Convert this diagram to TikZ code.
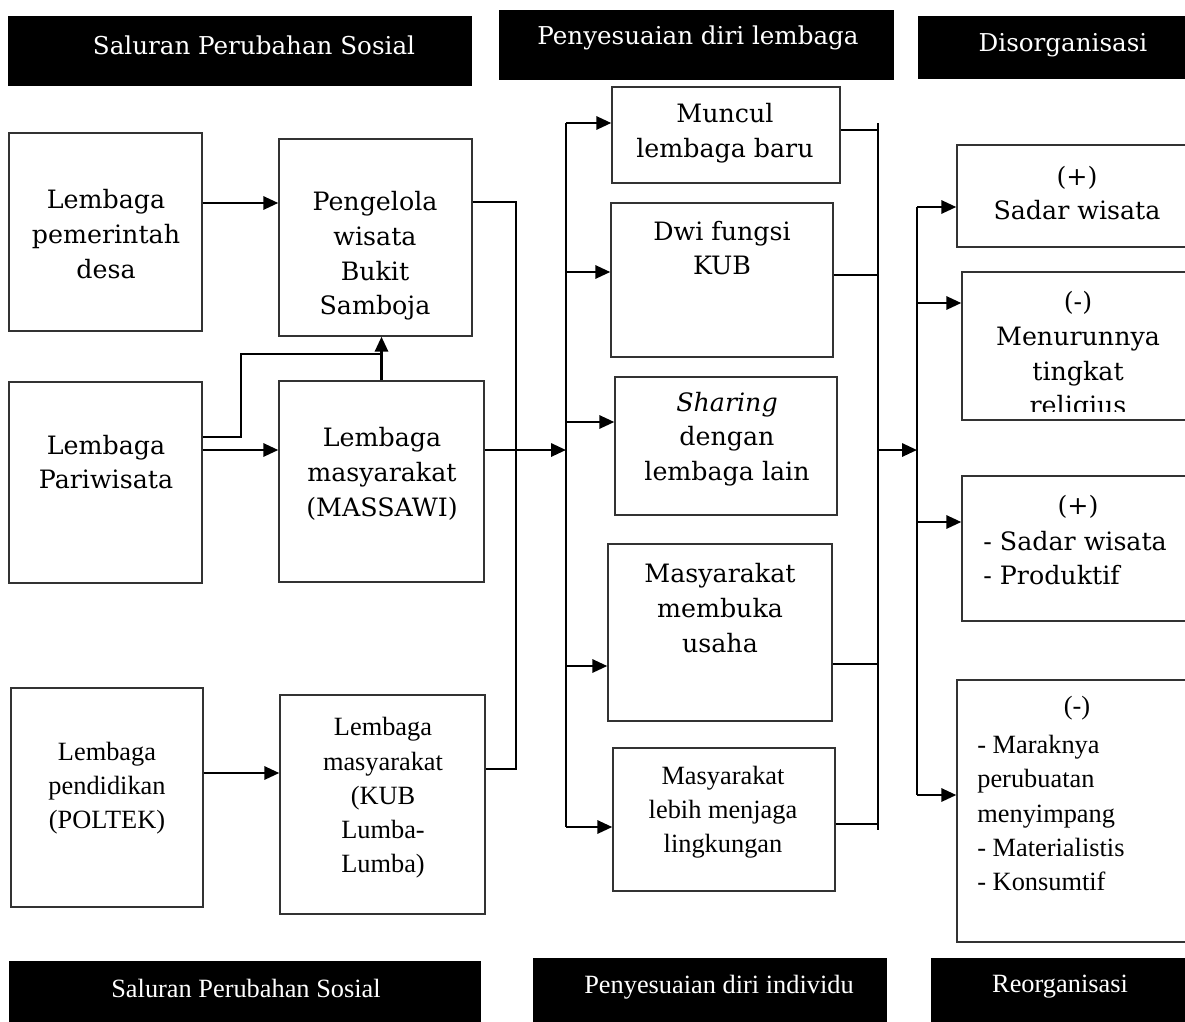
\documentclass[tikz,border=0pt]{standalone}
\usepackage{fontspec}
\setmainfont{DejaVu Serif}
\newfontfamily\tnr{Liberation Serif}
\usepackage{tikz}
\usetikzlibrary{arrows.meta,fit}

\begin{document}
\begin{tikzpicture}[x=0.02cm,y=-0.02cm,
  >={Triangle[length=8.5pt,width=7.5pt]},
  box/.style={draw=black!80,line width=0.8pt,inner sep=0pt},
  hbox/.style={fill=black,inner sep=0pt},
  txt/.style={align=center,inner sep=0pt,font=\fontsize{14.4}{19.8}\selectfont},
  ttxt/.style={align=center,inner sep=0pt,font=\tnr\fontsize{15}{19.5}\selectfont},
  htxt/.style={text=white,inner sep=0pt,font=\fontsize{14}{17}\selectfont},
  hqtxt/.style={text=white,inner sep=0pt,font=\tnr\fontsize{15}{17}\selectfont},
  link/.style={line width=1.1pt},
  arr/.style={->,line width=1.4pt}]
\clip (0,0) rectangle (1185,1021);

% black title bars
\node[hbox,fit={(8,16) (472,86)}] (h1) {};
\node[hbox,fit={(499,10) (894,80)}] (h2) {};
\node[hbox,fit={(918,16) (1195,79)}] (h3) {};
\node[hbox,fit={(9,961) (481,1030)}] (b1) {};
\node[hbox,fit={(533,958) (887,1030)}] (b2) {};
\node[hbox,fit={(931,958) (1195,1030)}] (b3) {};
\node[htxt] (h1t) at (254,45) {Saluran Perubahan Sosial};
\node[htxt] (h2t) at (698,38) {Penyesuaian diri lembaga};
\node[htxt] (h3t) at (1063,45) {Disorganisasi};
\node[hqtxt] (b1t) at (246,988) {Saluran Perubahan Sosial};
\node[hqtxt] (b2t) at (719,987) {Penyesuaian diri individu};
\node[hqtxt] (b3t) at (1060,987) {Reorganisasi};

% saluran
\node[box,fit={(9,133) (202,331)}] (l1) {};
\node[box,fit={(9,382) (202,583)}] (l2) {};
\node[box,fit={(11,688) (203,907)}] (l3) {};
\node[box,fit={(279,139) (472,336)}] (m1) {};
\node[box,fit={(279,381) (484,582)}] (m2) {};
\node[box,fit={(280,695) (485,914)}] (m3) {};
\node[txt] (l1t) at (106,234) {Lembaga\\pemerintah\\desa};
\node[txt] (l2t) at (106,462) {Lembaga\\Pariwisata};
\node[ttxt] (l3t) at (107,788) {Lembaga\\pendidikan\\(POLTEK)};
\node[txt] (m1t) at (375,256) {Pengelola\\wisata\\Bukit\\Samboja};
\node[txt] (m2t) at (382,474) {Lembaga\\masyarakat\\(MASSAWI)};
\node[ttxt] (m3t) at (383,798) {Lembaga\\masyarakat\\(KUB\\Lumba-\\Lumba)};

% penyesuaian
\node[box,fit={(612,87) (840,183)}] (r1) {};
\node[box,fit={(611,203) (833,357)}] (r2) {};
\node[box,fit={(615,377) (837,515)}] (r3) {};
\node[box,fit={(608,544) (832,721)}] (r4) {};
\node[box,fit={(613,748) (835,891)}] (r5) {};
\node[txt] (r1t) at (725,133) {Muncul\\lembaga baru};
\node[txt] (r2t) at (722,248) {Dwi fungsi\\KUB};
\node[txt] (r3t) at (727,439) {\textit{Sharing}\\dengan\\lembaga lain};
\node[txt] (r4t) at (720,608) {Masyarakat\\membuka\\usaha};
\node[ttxt] (r5t) at (723,812) {Masyarakat\\lebih menjaga\\lingkungan};

% dampak
\node[box,fit={(957,145) (1195,247)}] (d1) {};
\node[box,fit={(962,272) (1195,420)}] (d2) {};
\node[box,fit={(962,476) (1195,621)}] (d3) {};
\node[box,fit={(957,680) (1195,942)}] (d4) {};
\node[txt] (d1t) at (1077,193) {(+)\\Sadar wisata};
\begin{scope}
\clip (962,272) rectangle (1185,411);
\node[txt] (d2t) at (1078,356) {(-)\\Menurunnya\\tingkat\\religius};
\end{scope}
\node[txt] (d3t) at (1078,507) {(+)};
\node[txt,align=left,anchor=west] (d3l) at (983,558) {- Sadar wisata\\- Produktif};
\node[ttxt] (d4t) at (1077,708) {(-)};
\node[ttxt,align=left,anchor=west] (d4l) at (977,813) {- Maraknya\\perubuatan\\menyimpang\\- Materialistis\\- Konsumtif};

% left side
\draw[arr] (l1.east |- 0,203) -- (m1.west |- 0,203);
\draw[arr] (l2.east |- 0,450) -- (m2.west |- 0,450);
\draw[arr] (l3.east |- 0,773) -- (m3.west |- 0,773);
\coordinate (kink) at (241,354);
\draw[link] (l2.east |- 0,437) -| (kink) -- (m2.north |- kink);
\draw[arr] (m2.north) -- (m2.north |- m1.south);
\coordinate (mergeT) at (516,202);
\coordinate (mergeB) at (516,769);
\draw[link] (m1.east |- mergeT) -- (mergeT) -- (mergeB) -- (m3.east |- mergeB);

% buses
\coordinate (lbT) at (566,123);
\coordinate (lbB) at (566,827);
\coordinate (lbM) at (566,450);
\coordinate (rbT) at (878,123);
\coordinate (rbB) at (878,830);
\coordinate (rbM) at (878,450);
\coordinate (fbM) at (917,450);
\draw[link] (lbT) -- (lbB);
\draw[link] (rbT) -- (rbB);
\draw[arr] (m2.east |- lbM) -- (lbM);
\draw[arr] (rbM) -- (fbM);
\foreach \n/\y in {1/123,2/272,3/422,4/666,5/827} {
  \coordinate (in\n) at (566,\y);
  \draw[arr] (in\n) -- (r\n.west |- in\n);
}
\foreach \n/\y in {1/130,2/275,4/664,5/824} {
  \coordinate (out\n) at (878,\y);
  \draw[link] (r\n.east |- out\n) -- (out\n);
}
\foreach \n/\y in {1/207,2/303,3/522,4/795} {
  \coordinate (fb\n) at (917,\y);
  \draw[arr] (fb\n) -- (d\n.west |- fb\n);
}
\draw[link] (fb1) -- (fb4);
\end{tikzpicture}
\end{document}
